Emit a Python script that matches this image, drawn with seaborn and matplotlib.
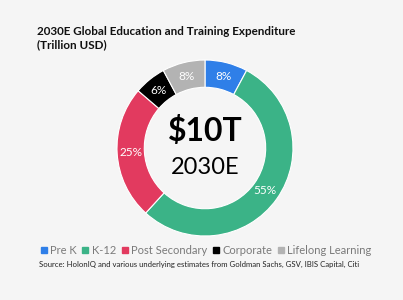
import matplotlib
matplotlib.use("Agg")
import matplotlib.pyplot as plt
import seaborn as sns
from matplotlib.lines import Line2D

categories = ["Pre K", "K-12", "Post Secondary", "Corporate", "Lifelong Learning"]
shares = [8, 55, 25, 6, 8]
colors = ["#2f7fe8", "#3bb387", "#e23a5f", "#000000", "#b3b3b3"]
title_text = "2030E Global Education and Training Expenditure\n(Trillion USD)"
center_big = "$10T"
center_small = "2030E"
source_text = "Source: HolonIQ and various underlying estimates from Goldman Sachs, GSV, IBIS Capital, Citi"

sns.set_style("white")
plt.rcParams['font.family'] = ['Lato', 'DejaVu Sans']

bg = "#f5f5f5"
fig = plt.figure(figsize=(4.03, 3.0), dpi=100, facecolor=bg)
ax = fig.add_axes([0.2903, 0.2133, 0.4367, 0.5867])
ax.set_facecolor(bg)

wedges, _, autotexts = ax.pie(
    shares, colors=sns.color_palette(colors), startangle=90, counterclock=False,
    autopct=lambda p: f"{p*sum(shares)/100:.0f}%", pctdistance=0.84,
    wedgeprops=dict(width=0.31, edgecolor="white", linewidth=0.8),
    textprops=dict(color="white", fontsize=8.5))
ax.set_xlim(-1, 1)
ax.set_ylim(-1, 1)
ax.set_aspect("equal")
ax.axis("off")

ax.text(0, 0.19, center_big, ha="center", va="center", fontsize=23, fontweight="bold", color="black")
ax.text(0, -0.22, center_small, ha="center", va="center", fontsize=17, fontweight="normal", color="black")

fig.text(37/403, 1 - 26/300, title_text, ha="left", va="top", fontsize=8.4,
         fontweight="bold", color="#111111", linespacing=1.25)

handles = [Line2D([0], [0], marker="s", linestyle="none", markersize=4,
                  markerfacecolor=c, markeredgecolor=c) for c in colors]
leg = fig.legend(handles, categories, loc="center", bbox_to_anchor=(206/403, 1 - 250/300),
                 ncol=5, frameon=False, fontsize=8, handlelength=0.6, handletextpad=0.3,
                 columnspacing=0.45, labelcolor="#7a7a7a")

fig.text(199/403, 1 - 264/300, source_text, ha="center", va="center", fontsize=5.6, color="#222222")

fig.savefig("out.png", dpi=100, facecolor=bg)
